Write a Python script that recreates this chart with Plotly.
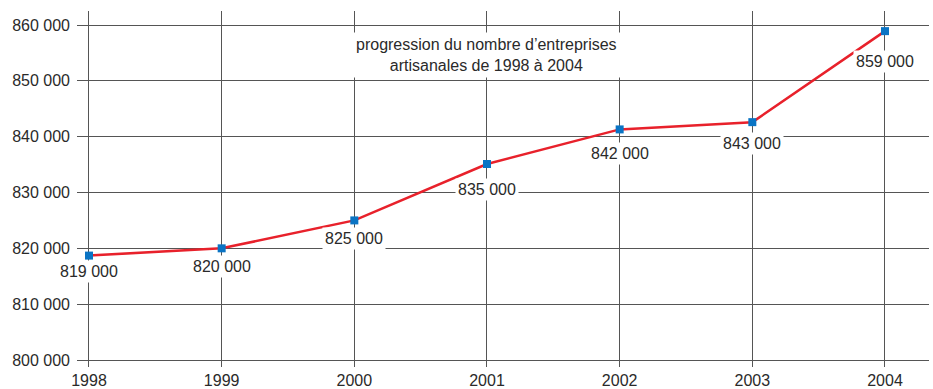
import plotly.graph_objects as go

years = [1998, 1999, 2000, 2001, 2002, 2003, 2004]
entreprises = [818700, 820000, 825000, 835100, 841300, 842600, 858900]
labels = ["819 000", "820 000", "825 000", "835 000", "842 000", "843 000", "859 000"]
y_ticks = [800000, 810000, 820000, 830000, 840000, 850000, 860000]
title_lines = ["progression du nombre d\u2019entreprises", "artisanales de 1998 \u00e0 2004"]

# style: vertical offsets (px) of each value label below its point
label_offsets = [16, 18, 18, 25, 24, 21, 30]

FONT = "Liberation Sans, Arial, Helvetica, sans-serif"
GRID = "#555555"
TXT = "#2a2a2a"

fig = go.Figure()
fig.add_trace(go.Scatter(
    x=years, y=entreprises, mode="lines+markers",
    line=dict(color="#e8212b", width=2.5),
    marker=dict(symbol="square", size=8, color="#0a74c4"),
    hoverinfo="skip", showlegend=False,
))

for yr, v, lab, off in zip(years, entreprises, labels, label_offsets):
    fig.add_annotation(
        x=yr, y=v, xref="x", yref="y", text=lab, showarrow=False,
        yshift=-off, xanchor="center", yanchor="middle",
        font=dict(family=FONT, size=16, color=TXT),
        bgcolor="white", borderpad=2,
    )

fig.add_annotation(
    x=2001, y=854700, xref="x", yref="y", text="<br>".join(title_lines),
    showarrow=False, xanchor="center", yanchor="middle",
    font=dict(family=FONT, size=16, color=TXT),
    bgcolor="white", borderpad=3,
)

fig.update_xaxes(
    range=[1997.9096, 2004.3317], tickvals=years, ticktext=[str(y) for y in years],
    showgrid=True, gridcolor=GRID, gridwidth=1.2, zeroline=False, showline=False,
    ticks="", ticklabelstandoff=2, automargin=False,
    tickfont=dict(family=FONT, size=16, color=TXT),
)
fig.update_yaxes(
    range=[798746, 862507], tickvals=y_ticks, tickformat=",d",
    showgrid=True, gridcolor=GRID, gridwidth=1.2, zeroline=False, showline=False,
    ticks="", ticklabelstandoff=6, automargin=False,
    tickfont=dict(family=FONT, size=16, color=TXT),
)

fig.update_layout(
    width=933, height=389,
    margin=dict(l=77, r=4, t=11, b=22),
    paper_bgcolor="white", plot_bgcolor="white",
    separators=", ",
    font=dict(family=FONT),
)

fig.write_html("out.html")
